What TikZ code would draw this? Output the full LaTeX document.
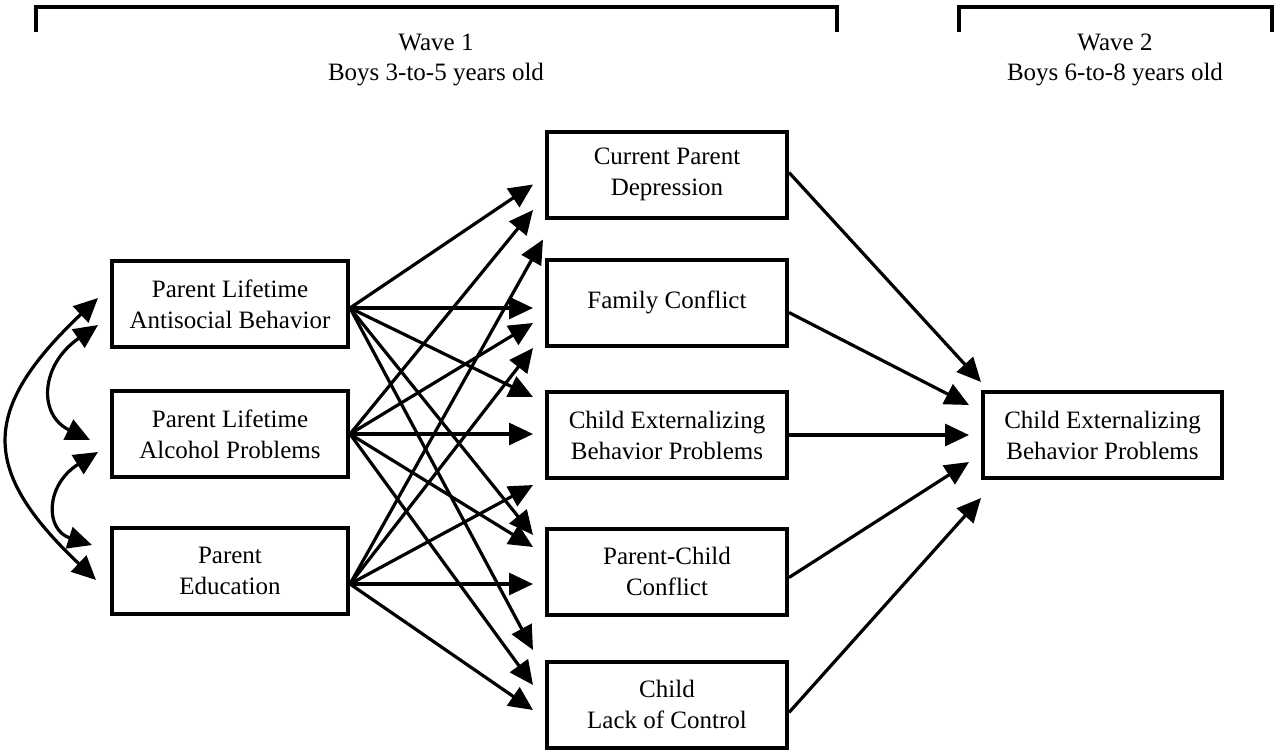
\documentclass[tikz,border=0pt]{standalone}
\usepackage{fontspec}
\setmainfont{Liberation Serif}
\usetikzlibrary{arrows.meta,calc}
\begin{document}
\begin{tikzpicture}[x=0.5pt,y=-0.5pt,
  box/.style={draw,line width=2pt,align=center,inner sep=0pt,font=\fontsize{12.5}{15.5}\selectfont,minimum height=43pt},
  lbox/.style={box,minimum width=118pt},
  mbox/.style={box,minimum width=120pt},
  arr/.style={line width=1.6pt,-{Triangle[length=12pt,width=11pt]}},
  darr/.style={line width=1.6pt,{Triangle[length=12pt,width=11pt]}-{Triangle[length=12pt,width=11pt]}},
  brk/.style={line width=2pt},
  hdr/.style={align=center,font=\fontsize{12.5}{15}\selectfont}]
\useasboundingbox (0,0) rectangle (1275,751);

% headers
\draw[brk] (36,32) -- (36,7) -- (837,7) -- (837,32);
\draw[brk] (959,32) -- (959,7) -- (1272,7) -- (1272,32);
\node[hdr] (w1) at (436,60) {Wave 1\\Boys 3-to-5 years old};
\node[hdr] (w2) at (1115,60) {Wave 2\\Boys 6-to-8 years old};

% left boxes
\node[lbox] (L1) at (230,304) {Parent Lifetime\\Antisocial Behavior};
\node[lbox] (L2) at (230,434) {Parent Lifetime\\Alcohol Problems};
\node[lbox] (L3) at (230,571) {Parent\\Education};

% middle boxes
\node[mbox] (MA) at (667,174.5) {Current Parent\\Depression};
\node[mbox] (MB) at (667,302.5) {Family Conflict};
\node[mbox] (MC) at (667,435) {Child Externalizing\\Behavior Problems};
\node[mbox] (MD) at (667,571.5) {Parent-Child\\Conflict};
\node[mbox] (ME) at (667,704.5) {Child\\Lack of Control};

% right box
\node[box,minimum width=119.5pt] (R) at (1102.5,435) {Child Externalizing\\Behavior Problems};

% correlations
\draw[darr] ($(L1.west)+(-12,-6)$) .. controls (-20,410) and (-20,470) .. ($(L3.west)+(-14,9)$);
\draw[darr] ($(L1.west)+(-12,21)$) .. controls (40,365) and (38,415) .. ($(L2.west)+(-20,6)$);
\draw[darr] ($(L2.west)+(-12,18)$) .. controls (45,485) and (45,530) .. ($(L3.west)+(-18,-26)$);

% origins
\coordinate (o1) at ($(L1.east)+(0,4)$);
\coordinate (o2) at (L2.east);
\coordinate (o3) at ($(L3.east)+(0,13)$);

% left -> middle
\draw[arr] (o1) -- ($(MA.west)+(-12,10)$);
\draw[arr] (o2) -- ($(MA.west)+(-12,35.5)$);
\draw[arr] (o3) -- ($(MA.south west)+(-2,20)$);

\draw[arr] (o1) -- ($(MB.west)+(-12,5.5)$);
\draw[arr] (o2) -- ($(MB.west)+(-12,20.5)$);
\draw[arr] (o3) -- ($(MB.west)+(-12,45.5)$);

\draw[arr] (o1) -- ($(MC.west)+(-12,-38)$);
\draw[arr] (o2) -- ($(MC.west)+(-12,-1)$);
\draw[arr] (o3) -- ($(MC.west)+(-12,50)$);

\draw[arr] (o1) -- ($(MD.west)+(-12,-36.5)$);
\draw[arr] (o2) -- ($(MD.west)+(-12,-24.5)$);
\draw[arr] (o3) -- ($(MD.west)+(-12,12.5)$);

\draw[arr] (o1) -- ($(ME.west)+(-12,-54.5)$);
\draw[arr] (o2) -- ($(ME.west)+(-12,-19.5)$);
\draw[arr] (o3) -- ($(ME.west)+(-12,5.5)$);

% middle -> right
\draw[arr] ($(MA.east)+(0,-2)$) -- ($(R.west)+(0,-53)$);
\draw[arr] ($(MB.east)+(0,10)$) -- ($(R.west)+(-12,-30)$);
\draw[arr] (MC.east) -- ($(R.west)+(-12,0)$);
\draw[arr] ($(MD.east)+(0,6)$) -- ($(R.west)+(-12,27)$);
\draw[arr] ($(ME.east)+(0,8)$) -- ($(R.west)+(0,63)$);
\end{tikzpicture}
\end{document}
